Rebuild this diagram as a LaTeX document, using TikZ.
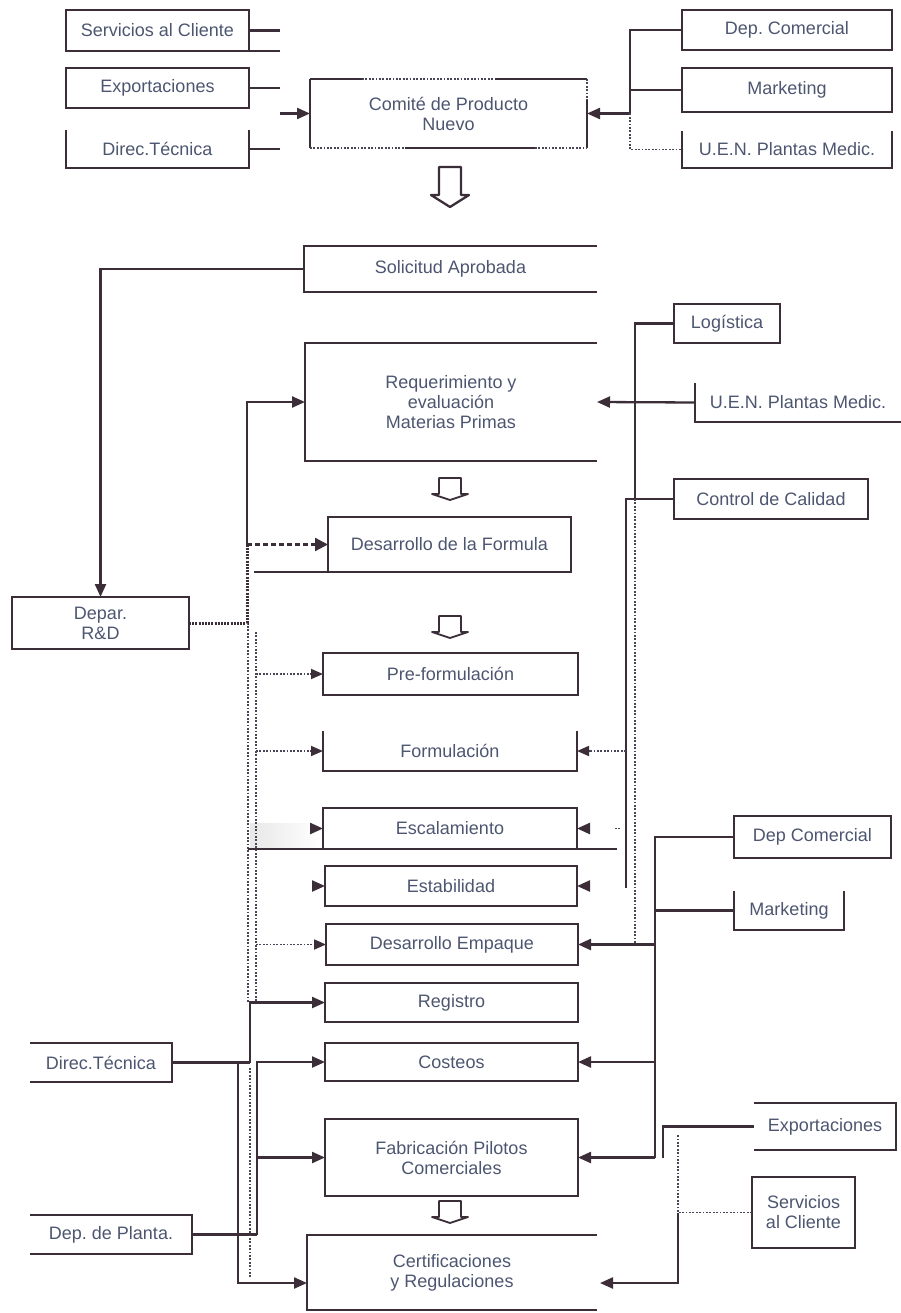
\documentclass[tikz,border=0pt]{standalone}
\usepackage{fontspec}
\setmainfont{Liberation Sans}
\usetikzlibrary{arrows.meta,calc}
\definecolor{ink}{HTML}{3B2E39}
\definecolor{txt}{HTML}{4D5670}
\definecolor{dotc}{HTML}{4A4458}
\frenchspacing
\begin{document}
\begin{tikzpicture}[x=1pt,y=-1pt,
  lbl/.style={inner sep=0pt, outer sep=0pt, text=txt, align=center,
    font=\fontsize{18}{20}\selectfont},
  box/.style={lbl, draw=ink, line width=2.3pt},
  wire/.style={draw=ink, line width=2.3pt},
  arr/.style={wire, -{Triangle[length=13pt,width=11pt]}},
  dots/.style={draw=dotc, line width=1.8pt, dash pattern=on 1.8pt off 1.6pt},
  dotarr/.style={dots, -{Triangle[length=12pt,width=10pt,color=ink]}},
  heavydots/.style={draw=ink, line width=3pt, dash pattern=on 2pt off 1.2pt},
  dasharr/.style={wire, dash pattern=on 5pt off 3pt, -{Triangle[length=13pt,width=13pt]}},
  bigdown/.pic={\draw[ink, line width=2.3pt, fill=white, line join=round]
     (-11,-20) -- (11,-20) -- (11,8) -- (19,8) -- (0,20) -- (-19,8) -- (-11,8) -- cycle;},
  smalldown/.pic={\draw[ink, line width=1.8pt, fill=white, line join=round]
     (-11,-11) -- (11,-11) -- (11,5) -- (18,5) -- (0,11) -- (-18,5) -- (-11,5) -- cycle;}
]
\useasboundingbox (0,0) rectangle (901,1313);

% ---------- proposal committee ----------
\node[box, minimum width=183pt, minimum height=41pt] (sc1) at (157.5,30.5) {Servicios al Cliente};
\node[box, minimum width=183pt, minimum height=40pt] (ex1) at (157.5,88) {Exportaciones};
\node[lbl, minimum width=183pt, minimum height=38pt] (dt1) at (157.5,149) {Direc.Técnica};
\draw[wire] (dt1.north west) -- (dt1.south west) -- (dt1.south east) -- (dt1.north east);

\node[lbl, minimum width=277pt, minimum height=69pt] (cpn) at (448.5,113.5) {Comité de Producto\\Nuevo};
\draw[wire] (cpn.north west) -- (cpn.south west);
\draw[wire] (cpn.north west) -- ++(52,0);
\draw[dots] ($(cpn.north west)+(52,0)$) -- ($(cpn.north west)+(185,0)$);
\draw[wire] ($(cpn.north west)+(185,0)$) -- (cpn.north east);
\draw[dots] (cpn.north east) -- ++(0,21);
\draw[wire] ($(cpn.north east)+(0,21)$) -- (cpn.south east);
\draw[dots] (cpn.south west) -- ++(95,0);
\draw[wire] ($(cpn.south west)+(95,0)$) -- ($(cpn.south west)+(225,0)$);
\draw[dots] ($(cpn.south west)+(225,0)$) -- (cpn.south east);

\node[box, minimum width=210pt, minimum height=40pt] (dc1) at (787,30) {Dep. Comercial};
\node[box, minimum width=210pt, minimum height=44pt] (mk1) at (787,90) {Marketing};
\node[lbl, minimum width=210pt, minimum height=37pt] (uen1) at (787,149.5) {U.E.N. Plantas Medic.};
\draw[wire] (uen1.north west) -- (uen1.south west) -- (uen1.south east) -- (uen1.north east);

\draw[wire] (sc1.east) -- ++(31,0);
\draw[wire] (sc1.south east) -- ++(31,0);
\draw[wire] (ex1.east) -- ++(31,0);
\draw[wire] (dt1.east) -- ++(31,0);
\coordinate (cin) at (280,113.5);
\draw[arr] (cin) -- (cpn.west);
\coordinate (rbus) at (630,113.5);
\draw[wire] (dc1.west) -| (rbus);
\draw[wire] (mk1.west) -- (mk1.west -| rbus);
\draw[arr] (rbus) -- (cpn.east);
\draw[dots] (rbus) |- (uen1.west);

\pic at (450,187) {bigdown};

% ---------- development process ----------
\node[lbl, minimum width=293pt, minimum height=46pt] (sa) at (450.5,269) {Solicitud Aprobada};
\draw[wire] (sa.north east) -- (sa.north west) -- (sa.south west) -- (sa.south east);
\node[lbl, minimum width=292pt, minimum height=118pt] (req) at (451,402) {Requerimiento y\\evaluación\\Materias Primas};
\draw[wire] (req.north east) -- (req.north west) -- (req.south west) -- (req.south east);
\pic at (450,489) {smalldown};
\node[box, minimum width=243pt, minimum height=55pt] (df) at (449.5,544.5) {Desarrollo de la Formula};
\pic at (450,627) {smalldown};
\node[box, minimum width=255pt, minimum height=42pt] (pf) at (450.5,674) {Pre-formulación};
\node[lbl, minimum width=254pt, minimum height=40pt] (fo) at (450,751) {Formulación};
\draw[wire] (fo.north west) -- (fo.south west) -- (fo.south east) -- (fo.north east);
\shade[left color=black!9, right color=white] (250,823) rectangle (322,847);
\node[box, minimum width=254pt, minimum height=41pt] (es) at (450,828.5) {Escalamiento};
\node[box, minimum width=252pt, minimum height=40pt] (et) at (451,886) {Estabilidad};
\node[box, minimum width=252pt, minimum height=41pt] (de) at (452,944.5) {Desarrollo Empaque};
\node[box, minimum width=253pt, minimum height=39pt] (rg) at (451.5,1002.5) {Registro};
\node[box, minimum width=253pt, minimum height=38pt] (co) at (451.5,1062) {Costeos};
\node[box, minimum width=253pt, minimum height=77pt] (fp) at (451.5,1157.5) {Fabricación Pilotos\\Comerciales};
\pic at (450,1212) {smalldown};
\node[lbl, minimum width=290pt, minimum height=75pt] (cr) at (452,1272.5) {Certificaciones\\y Regulaciones};
\draw[wire] (cr.north east) -- (cr.north west) -- (cr.south west) -- (cr.south east);

% left-hand departments
\node[box, minimum width=177pt, minimum height=52pt] (rd) at (100.5,623) {Depar.\\R\&D};
\node[lbl, minimum width=142pt, minimum height=39pt] (dt2) at (101,1062.5) {Direc.Técnica};
\draw[wire] (dt2.north west) -- (dt2.north east) -- (dt2.south east) -- (dt2.south west);
\node[lbl, minimum width=162pt, minimum height=39pt] (dp) at (111,1234.5) {Dep. de Planta.};
\draw[wire] (dp.north west) -- (dp.north east) -- (dp.south east) -- (dp.south west);

% right-hand departments
\node[box, minimum width=106pt, minimum height=39pt] (lg) at (727,323.5) {Logística};
\node[lbl, minimum width=206pt, minimum height=39pt] (uen2) at (798,402.5) {U.E.N. Plantas Medic.};
\draw[wire] (uen2.north west) -- (uen2.south west) -- (uen2.south east);
\node[box, minimum width=194pt, minimum height=40pt] (cc) at (771,499) {Control de Calidad};
\node[box, minimum width=157pt, minimum height=42pt] (dc2) at (812.5,837) {Dep Comercial};
\node[lbl, minimum width=110pt, minimum height=39pt] (mk2) at (789,910.5) {Marketing};
\draw[wire] (mk2.north west) -- (mk2.south west) -- (mk2.south east) -- (mk2.north east);
\node[lbl, minimum width=142pt, minimum height=47pt] (ex2) at (825,1126.5) {Exportaciones};
\draw[wire] (ex2.north west) -- (ex2.north east) -- (ex2.south east) -- (ex2.south west);
\node[box, minimum width=103pt, minimum height=71pt] (sc2) at (803.5,1212.5) {Servicios\\al Cliente};

% approved request to R&D
\draw[arr] (sa.west) -| (rd.north);

% R&D links
\coordinate (rdj) at (247,623);
\draw[heavydots] (rd.east) -- (rdj) -- (rdj |- df.west);
\draw[arr] (rdj |- df.west) -- (rdj |- req.west) -- (req.west);
\draw[dasharr] (rdj |- df.west) -- (df.west);
\draw[wire] (df.south west) -- ++(-74,0);
\coordinate (rdA) at (248,626);
\coordinate (rdB) at (256,632);
\draw[dots] (rdA) -- (rdA |- rg.west);
\draw[dots] (rdB) -- (rdB |- rg.west);
\draw[dotarr] (rdB |- pf.west) -- (pf.west);
\draw[dotarr] (rdB |- fo.west) -- (fo.west);
\draw[arr] ($(es.west)+(-11,0)$) -- (es.west);
\draw[arr] ($(et.west)+(-11,0)$) -- (et.west);
\draw[dotarr] (rdB |- de.west) -- (de.west);
\draw[wire] (es.south west) -- ++(-75,0);
\draw[wire] (es.south east) -- ++(40,0);

% technical direction and plant
\coordinate (dtj) at (250,1062.5);
\coordinate (dtk) at (238,1062.5);
\draw[wire] (dt2.east) -- (dtj);
\draw[arr] (dtj) |- (rg.west);
\draw[arr] (dtk) |- ($(cr.south west)!0.36!(cr.north west)$);
\coordinate (dpj) at (257,1234.5);
\draw[wire] (dp.east) -- (dpj);
\draw[arr] (dpj) |- (co.west);
\draw[arr] (dpj |- fp.west) -- (fp.west);
\coordinate (dlo) at (250,1068);
\draw[dots] (dlo) -- (250,1278);

% logistics, quality and medicinal plants
\coordinate (rc) at (635,499);
\coordinate (rs) at (626,499);
\draw[wire] (lg.west) -| (rc);
\draw[wire] (cc.west) -- (rs) -- (626,888);
\draw[arr] (uen2.west) -- (req.east);
\draw[dots] (rc) -- (rc |- de.east);
\draw[dotarr] (rs |- fo.east) -- (fo.east);
\draw[arr] ($(es.east)+(13,0)$) -- (es.east);
\draw[dots] ($(es.east)+(38,0)$) -- ++(6,0);
\draw[arr] ($(et.east)+(13,0)$) -- (et.east);

% commercial and marketing
\coordinate (mbus) at (655,837);
\draw[wire] (dc2.west) -- (mbus) -- (mbus |- fp.east);
\draw[wire] (mk2.west) -- (mk2.west -| mbus);
\draw[arr] (mbus |- de.east) -- (de.east);
\draw[arr] (mbus |- co.east) -- (co.east);
\draw[arr] (mbus |- fp.east) -- (fp.east);

% exports and customer service
\coordinate (xj) at (663,1126.5);
\draw[wire] (ex2.west) -- (xj) -- (xj |- fp.east);
\coordinate (sj) at (678,1212.5);
\coordinate (sjt) at (678,1135);
\draw[dots] (sc2.west) -- (sj) -- (sjt);
\draw[arr] (sj) |- ($(cr.south east)!0.36!(cr.north east)+(3,0)$);
\end{tikzpicture}
\end{document}
